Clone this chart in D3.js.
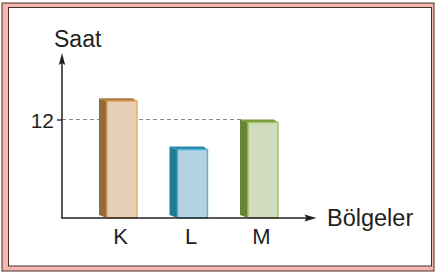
<!DOCTYPE html>
<html>
<head>
<meta charset="utf-8">
<script src="https://cdn.jsdelivr.net/npm/d3@7"></script>
<style>
  body { margin: 0; background: #fff; }
  text { font-family: "Liberation Sans", Arial, sans-serif; fill: #231f20; }
</style>
</head>
<body>
<div class="canvas"></div>
<script>
// data
const categories = ['K', 'L', 'M'];
const hours = [14.6, 8.7, 12];
const yTicks = [12];

const fronts = ['#e3d0b6', '#b3d2e2', '#d1dbbf'];
const edges = ['#eba65a', '#4fb4dc', '#a2c45e'];
const sides = ['#946a38', '#1f7b98', '#668536'];
const tops = ['#a87c48', '#2c8aa8', '#779a42'];

const svg = d3.select('.canvas')
    .append('svg')
    .attr('width', 435)
    .attr('height', 273);

// frame
svg.append('rect')
    .attr('x', 2).attr('y', 3).attr('width', 432).attr('height', 268)
    .attr('fill', '#f5b8b0').attr('stroke', '#4a2e2c').attr('stroke-width', 1);
svg.append('rect')
    .attr('x', 8.5).attr('y', 7.5).attr('width', 423).attr('height', 258.5)
    .attr('fill', '#fff').attr('stroke', '#4a2e2c').attr('stroke-width', 1);

const y = d3.scaleLinear()
    .domain([0, 12])
    .range([218, 119.5]);

const x = d3.scalePoint()
    .domain(categories)
    .range([122, 263]);

const barW = 30;
const depth = 8;
const rise = 3;

// dashed guide at 12
svg.append('line')
    .attr('x1', 62).attr('x2', x('M') - barW / 2 - depth + 2)
    .attr('y1', y(12)).attr('y2', y(12))
    .attr('stroke', '#8a8a8a').attr('stroke-width', 1.2)
    .attr('stroke-dasharray', '4,3');

// y tick + label
const yAxis = d3.axisLeft(y).tickValues(yTicks).tickSize(5).tickPadding(3);
const yAxisGroup = svg.append('g')
    .attr('transform', 'translate(62,0)')
    .call(yAxis);
yAxisGroup.select('.domain').remove();
yAxisGroup.selectAll('line').attr('stroke', '#231f20').attr('stroke-width', 1.3);
yAxisGroup.selectAll('text')
    .attr('font-size', 21)
    .attr('font-family', '"Liberation Sans", Arial, sans-serif')
    .attr('fill', '#231f20')
    .attr('dy', '0.36em');

// bars
const data = categories.map((c, i) => ({ name: c, v: hours[i], i }));
const bars = svg.selectAll('g.bar').data(data).enter().append('g').attr('class', 'bar');

bars.append('path') // side
    .attr('d', d => {
        const x0 = x(d.name) - barW / 2, yt = y(d.v) + rise, yb = y(0);
        return `M${x0},${yt} L${x0 - depth},${yt - rise} L${x0 - depth},${yb - rise} L${x0},${yb} Z`;
    })
    .attr('fill', d => sides[d.i]);

bars.append('path') // top
    .attr('d', d => {
        const x0 = x(d.name) - barW / 2, yt = y(d.v) + rise;
        return `M${x0},${yt} L${x0 - depth},${yt - rise} L${x0 + barW - depth + 4},${yt - rise} L${x0 + barW},${yt} Z`;
    })
    .attr('fill', d => tops[d.i]);

bars.append('rect') // front
    .attr('x', d => x(d.name) - barW / 2)
    .attr('y', d => y(d.v) + rise)
    .attr('width', barW)
    .attr('height', d => y(0) - y(d.v) - rise)
    .attr('fill', d => fronts[d.i])
    .attr('stroke', d => edges[d.i])
    .attr('stroke-width', 1.4);

// axes with arrows
svg.append('line')
    .attr('x1', 62).attr('y1', 218).attr('x2', 62).attr('y2', 60)
    .attr('stroke', '#231f20').attr('stroke-width', 1.5);
svg.append('path')
    .attr('d', 'M62,53 L58.8,65 L62,63 L65.2,65 Z')
    .attr('fill', '#231f20');

svg.append('line')
    .attr('x1', 61.25).attr('y1', 218).attr('x2', 310).attr('y2', 218)
    .attr('stroke', '#231f20').attr('stroke-width', 1.5);
svg.append('path')
    .attr('d', 'M316.5,218 L304.5,214.6 L306.5,218 L304.5,221.4 Z')
    .attr('fill', '#231f20');

// x labels
const xAxis = d3.axisBottom(x).tickSize(0).tickPadding(10);
const xAxisGroup = svg.append('g')
    .attr('transform', 'translate(-2,218)')
    .call(xAxis);
xAxisGroup.select('.domain').remove();
xAxisGroup.selectAll('text')
    .attr('font-size', 22)
    .attr('font-family', '"Liberation Sans", Arial, sans-serif')
    .attr('fill', '#231f20');

// axis titles
svg.append('text')
    .attr('x', 54).attr('y', 47)
    .attr('font-size', 23)
    .text('Saat');

svg.append('text')
    .attr('x', 327).attr('y', 225.5)
    .attr('font-size', 23.5)
    .text('Bölgeler');
</script>
</body>
</html>
